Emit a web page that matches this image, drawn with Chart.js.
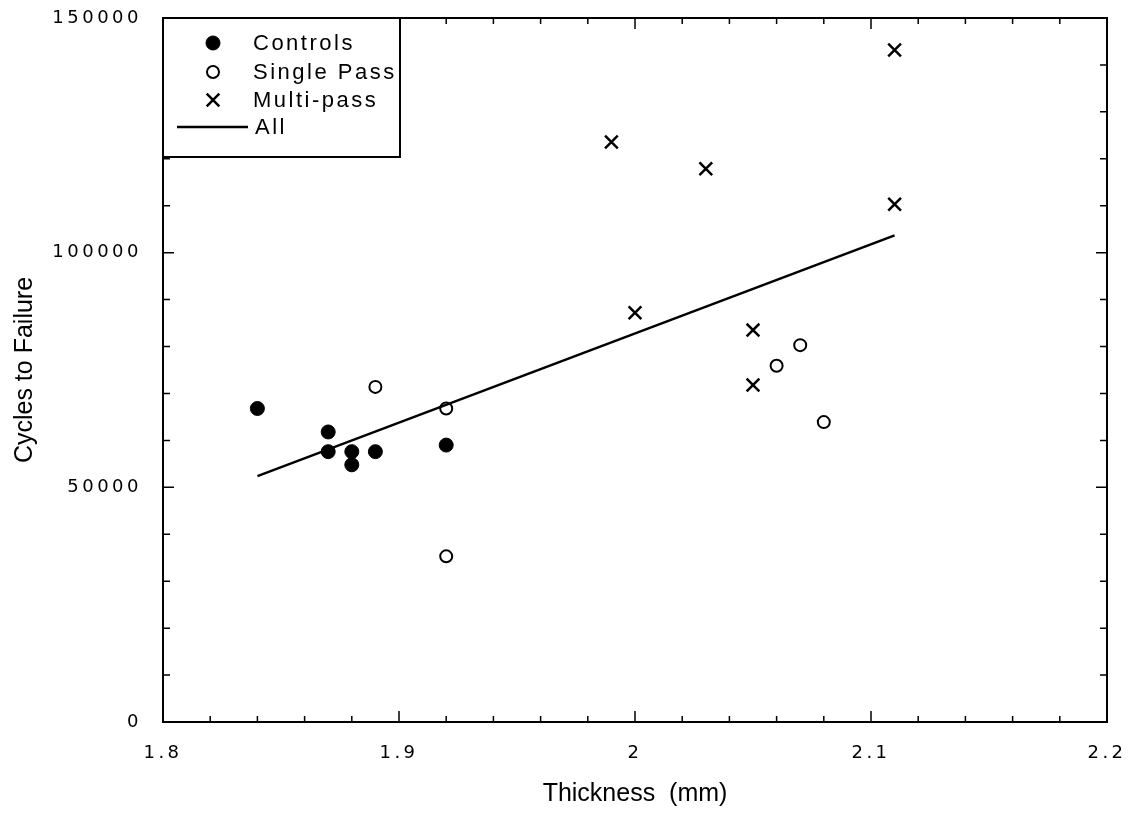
<!DOCTYPE html>
<html lang="en">
	<head>
		<meta charset="utf-8">
		<title>Cycles to Failure vs Thickness</title>
		<style>
			html, body { margin: 0; padding: 0; background: #fff; }
			#wrap { width: 1132px; height: 818px; }
		</style>
	</head>
	<body>
		<div id="wrap"><canvas id="myChart"></canvas></div>

		<script src="https://cdn.jsdelivr.net/npm/chart.js@4/dist/chart.umd.min.js"></script>
		<script>
			// data
			var controlsX = [1.84, 1.87, 1.87, 1.88, 1.88, 1.89, 1.92];
			var controlsY = [66800, 61800, 57600, 57600, 54800, 57600, 59000];

			var singleX = [1.89, 1.92, 1.92, 2.06, 2.07, 2.08];
			var singleY = [71400, 66800, 35300, 75900, 80300, 63900];

			var multiX = [1.99, 2.0, 2.03, 2.05, 2.05, 2.11, 2.11];
			var multiY = [123600, 87200, 117900, 83500, 71800, 143200, 110300];

			// fitted line "All", end points
			var allX = [1.84, 2.11];
			var allY = [52400, 103700];

			var xTickLabels = [1.8, 1.9, 2, 2.1, 2.2];
			var yTickLabels = [0, 50000, 100000, 150000];

			function pts(xs, ys) {
				return xs.map(function(x, i) { return {x: x, y: ys[i]}; });
			}
			function isLabelled(v, list) {
				return list.some(function(t) { return Math.abs(t - v) < 1e-6; });
			}

			var fontFamily = "'Liberation Sans', Arial, Helvetica, sans-serif";
			var tickFamily = "'DejaVu Sans', 'Liberation Sans', sans-serif";

			// tick labels with wide letter spacing like the original
			var spacedLabels = {
				id: 'spacedLabels',
				beforeDraw: function(chart) {
					Object.keys(chart.scales).forEach(function(k) {
						var s = chart.scales[k];
						if (s._spaced) return;
						var orig = s.drawLabels;
						s.drawLabels = function(area) {
							var ctx = this.ctx;
							ctx.save();
							ctx.letterSpacing = '3.5px';
							orig.call(this, area);
							ctx.restore();
						};
						s._spaced = true;
					});
				}
			};

			// frame and inward ticks on all four sides
			var frameTicks = {
				id: 'frameTicks',
				beforeDatasetsDraw: function(chart) {
					var ctx = chart.ctx, a = chart.chartArea;
					var xs = chart.scales.x, ys = chart.scales.y;
					ctx.save();
					ctx.strokeStyle = '#000';
					ctx.lineWidth = 2;
					ctx.strokeRect(a.left, a.top, a.right - a.left, a.bottom - a.top);
					ctx.lineWidth = 1.5;
					ctx.beginPath();
					xs.ticks.forEach(function(t) {
						var px = xs.getPixelForValue(t.value);
						var len = t.label !== '' ? 11 : 6;
						ctx.moveTo(px, a.bottom); ctx.lineTo(px, a.bottom - len);
						ctx.moveTo(px, a.top); ctx.lineTo(px, a.top + len);
					});
					ys.ticks.forEach(function(t) {
						var py = ys.getPixelForValue(t.value);
						var len = t.label !== '' ? 11 : 7;
						ctx.moveTo(a.left, py); ctx.lineTo(a.left + len, py);
						ctx.moveTo(a.right, py); ctx.lineTo(a.right - len, py);
					});
					ctx.stroke();
					ctx.restore();
				}
			};

			// boxed legend inside the top-left corner
			var boxLegend = {
				id: 'boxLegend',
				afterDraw: function(chart) {
					var ctx = chart.ctx, a = chart.chartArea;
					var left = a.left, top = a.top, w = 237, h = 139;
					var rows = [43, 72, 100, 127];
					ctx.save();
					ctx.fillStyle = '#fff';
					ctx.fillRect(left, top, w, h);
					ctx.strokeStyle = '#000';
					ctx.lineWidth = 2;
					ctx.strokeRect(left, top, w, h);
					ctx.font = '22px ' + fontFamily;
					ctx.letterSpacing = '2.5px';
					ctx.textBaseline = 'middle';
					ctx.fillStyle = '#000';
					chart.data.datasets.forEach(function(ds, i) {
						var y = rows[i], mx = 213;
						ctx.lineWidth = ds.borderWidth || 2;
						ctx.beginPath();
						if (ds.showLine) {
							ctx.moveTo(177, y); ctx.lineTo(248, y);
							ctx.stroke();
							ctx.fillText(ds.label, 255, y + 1);
							return;
						}
						if (ds.pointStyle === 'crossRot') {
							var d = ds.pointRadius * 0.7;
							ctx.moveTo(mx - d, y - d); ctx.lineTo(mx + d, y + d);
							ctx.moveTo(mx - d, y + d); ctx.lineTo(mx + d, y - d);
							ctx.stroke();
						} else {
							ctx.arc(mx, y, ds.pointRadius, 0, Math.PI * 2);
							if (ds.backgroundColor === '#000') ctx.fill();
							ctx.stroke();
						}
						ctx.fillText(ds.label, 253, y + 1);
					});
					ctx.restore();
				}
			};

			var ctx = document.getElementById('myChart').getContext('2d');
			var chart = new Chart(ctx, {
				type: 'scatter',
				data: {
					datasets: [{
						label: 'Controls',
						data: pts(controlsX, controlsY),
						pointStyle: 'circle',
						pointRadius: 7,
						backgroundColor: '#000',
						borderColor: '#000',
						borderWidth: 1
					}, {
						label: 'Single Pass',
						data: pts(singleX, singleY),
						pointStyle: 'circle',
						pointRadius: 6,
						backgroundColor: 'rgba(255,255,255,0)',
						borderColor: '#000',
						borderWidth: 2
					}, {
						label: 'Multi-pass',
						data: pts(multiX, multiY),
						pointStyle: 'crossRot',
						pointRadius: 9,
						borderColor: '#000',
						borderWidth: 2.5
					}, {
						label: 'All',
						data: pts(allX, allY),
						showLine: true,
						pointRadius: 0,
						borderColor: '#000',
						borderWidth: 2.5
					}]
				},
				options: {
					responsive: true,
					maintainAspectRatio: false,
					animation: false,
					layout: { padding: { top: 18, right: 25, left: 0, bottom: 0 } },
					plugins: {
						legend: { display: false },
						tooltip: { enabled: false }
					},
					scales: {
						x: {
							type: 'linear',
							min: 1.8,
							max: 2.2,
							grid: { display: false },
							border: { display: false },
							ticks: {
								stepSize: 0.02,
								autoSkip: false,
								maxRotation: 0,
								padding: 13,
								color: '#000',
								font: { family: tickFamily, size: 18 },
								callback: function(v) {
									return isLabelled(v, xTickLabels) ? String(Math.round(v * 10) / 10) : '';
								}
							},
							title: {
								display: true,
								text: 'Thickness  (mm)',
								color: '#000',
								font: { family: fontFamily, size: 25 },
								padding: { top: 0, bottom: 9 }
							},
							afterFit: function(s) {
								s.height = 96;
								s.paddingLeft = 0;
								s.paddingRight = 0;
							}
						},
						y: {
							min: 0,
							max: 150000,
							grid: { display: false },
							border: { display: false },
							ticks: {
								stepSize: 10000,
								autoSkip: false,
								padding: 13,
								color: '#000',
								font: { family: tickFamily, size: 18 },
								callback: function(v) {
									return isLabelled(v, yTickLabels) ? String(v) : '';
								}
							},
							title: {
								display: true,
								text: 'Cycles to Failure',
								color: '#000',
								font: { family: fontFamily, size: 25 },
								padding: { top: 10, bottom: 0 }
							},
							afterFit: function(s) {
								s.width = 163;
								s.paddingTop = 0;
								s.paddingBottom = 0;
							}
						}
					}
				},
				plugins: [spacedLabels, frameTicks, boxLegend]
			});
		</script>
	</body>
</html>
